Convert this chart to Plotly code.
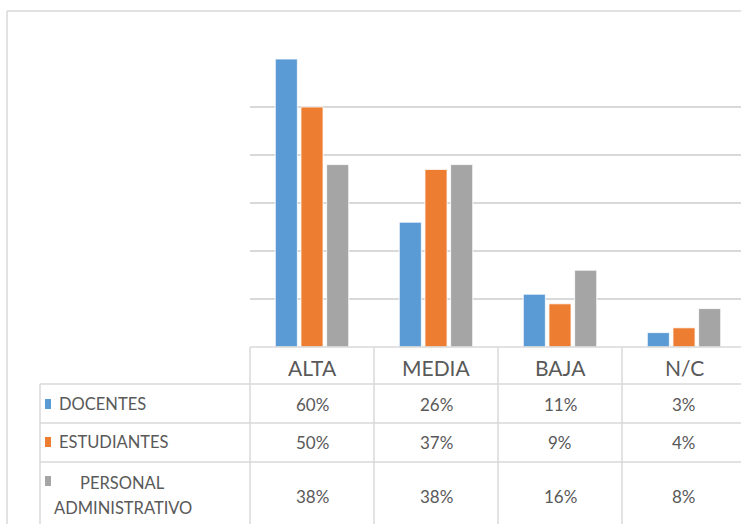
import plotly.graph_objects as go

categories = ["ALTA", "MEDIA", "BAJA", "N/C"]
series_names = ["DOCENTES", "ESTUDIANTES", "PERSONAL ADMINISTRATIVO"]
docentes = [60, 26, 11, 3]
estudiantes = [50, 37, 9, 4]
personal = [38, 38, 16, 8]
series_values = [docentes, estudiantes, personal]
colors = ["#5B9BD5", "#ED7D31", "#A5A5A5"]

W, H = 741, 524
def px(x):
    return x / W
def py(y):
    return 1 - y / H

FONT = "Lato, Carlito, Calibri, sans-serif"
TXT = "#595959"
GRID = "#D9D9D9"

fig = go.Figure()
for name, vals, c in zip(series_names, series_values, colors):
    fig.add_trace(go.Bar(x=categories, y=vals, name=name, marker_color=c,
                         marker_line_color="white", marker_line_width=0.8,
                         showlegend=False, hoverinfo="skip"))

col_w = 124
x0 = 250
right_ext = (W - x0) / col_w - 0.5
fig.update_layout(
    width=W, height=H, margin=dict(l=0, r=0, t=0, b=0),
    paper_bgcolor="white", plot_bgcolor="white",
    barmode="group", bargap=0.379, bargroupgap=0.14,
    xaxis=dict(domain=[px(x0), 1], range=[-0.5, right_ext], showticklabels=False,
               showgrid=False, zeroline=False, showline=False, ticks=""),
    yaxis=dict(domain=[py(347), py(59)], range=[0, 60], dtick=10, showticklabels=False,
               showgrid=True, gridcolor=GRID, gridwidth=1.3, zeroline=False, showline=False, ticks=""),
)

shapes = []
def line(xa, ya, xb, yb, w=1.5):
    shapes.append(dict(type="line", xref="paper", yref="paper", x0=px(xa), y0=py(ya),
                       x1=px(xb), y1=py(yb), line=dict(color=GRID, width=w), layer="above"))

line(7, 11, 745, 11)
line(7, 11, 7, 530)
line(250, 347, 745, 347)
for xv in [250, 374, 498, 622]:
    line(xv, 347, xv, 530)
line(40, 384, 40, 530)
for yv in [384, 423, 462]:
    line(40, yv, 745, yv)

ann = []
def text(x, y, s, size, xanchor="center"):
    ann.append(dict(xref="paper", yref="paper", x=px(x), y=py(y), text=s, showarrow=False,
                    xanchor=xanchor, yanchor="middle", align="center",
                    font=dict(family=FONT, size=size, color=TXT)))

centers = [x0 + col_w * (i + 0.5) for i in range(len(categories))]
for cx, cat in zip(centers, categories):
    text(cx, 367, cat, 21)

row_y = [404, 442, 496]
for r, (name, vals, c) in enumerate(zip(series_names, series_values, colors)):
    for cx, v in zip(centers, vals):
        text(cx, row_y[r], f"{v}%", 17)
    ky = row_y[r] if r < 2 else 481
    shapes.append(dict(type="rect", xref="paper", yref="paper", x0=px(45), x1=px(51),
                       y0=py(ky - 5), y1=py(ky + 5), fillcolor=c, line=dict(width=0)))
    if r < 2:
        text(57, row_y[r], name, 16.5, xanchor="left")
    else:
        first, second = name.split(" ")
        text(122.5, 483, first, 16.5)
        text(122.5, 508, second, 16.5)

fig.update_layout(shapes=shapes, annotations=ann)

fig.write_html("out.html", config={"displayModeBar": False, "staticPlot": True},
               post_script="document.body.style.margin='0';document.body.style.overflow='hidden';")
